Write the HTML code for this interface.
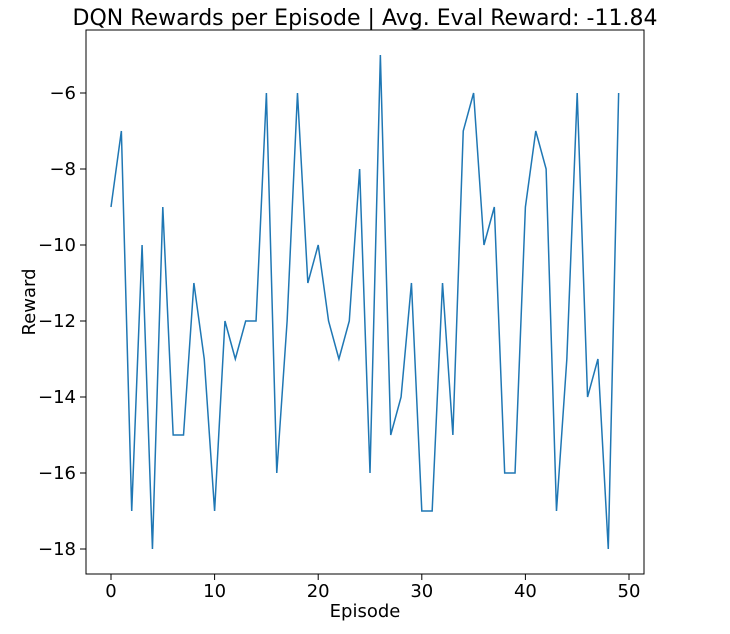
<!DOCTYPE html>
<html><head><meta charset="utf-8"><style>
body{margin:0;background:#fff;}
svg text{font-family:"DejaVu Sans","Liberation Sans",sans-serif;fill:#000;}
</style></head><body>
<svg id="chart" width="730" height="629">
<text x="365" y="25" font-size="22" text-anchor="middle">DQN Rewards per Episode | Avg. Eval Reward: -11.84</text>
<g id="ticks"></g>
<polyline id="line" fill="none" stroke="#1f77b4" stroke-width="1.5"/>
<rect x="86" y="30" width="558" height="544" fill="none" stroke="#000" stroke-width="1"/>
<text x="365" y="617" font-size="18" text-anchor="middle">Episode</text>
<text transform="translate(35,302) rotate(-90)" font-size="18" text-anchor="middle">Reward</text>
</svg>
<script>
const episodes=[...Array(50).keys()];
const rewards=[-9,-7,-17,-10,-18,-9,-15,-15,-11,-13,-17,-12,-13,-12,-12,-6,-16,-12,-6,-11,-10,-12,-13,-12,-8,-16,-5,-15,-14,-11,-17,-17,-11,-15,-7,-6,-10,-9,-16,-16,-9,-7,-8,-17,-13,-6,-14,-13,-18,-6];
const xTicks=[0,10,20,30,40,50];
const yTicks=[-18,-16,-14,-12,-10,-8,-6];
const xs=v=>111+v*10.36;
const ys=v=>93+(-6-v)*38;
const NS="http://www.w3.org/2000/svg";
document.getElementById('line').setAttribute('points',episodes.map((e,i)=>xs(e)+','+ys(rewards[i])).join(' '));
const g=document.getElementById('ticks');
xTicks.forEach(t=>{
 const l=document.createElementNS(NS,'line');
 l.setAttribute('x1',xs(t));l.setAttribute('x2',xs(t));l.setAttribute('y1',574);l.setAttribute('y2',580);l.setAttribute('stroke','#000');
 
 
 g.appendChild(l);
 const tx=document.createElementNS(NS,'text');
 tx.setAttribute('x',xs(t));tx.setAttribute('y',597);tx.setAttribute('font-size','18');tx.setAttribute('text-anchor','middle');
 tx.textContent=t;
 
 
 g.appendChild(tx);
});
yTicks.forEach(t=>{
 const l=document.createElementNS(NS,'line');
 l.setAttribute('x1',80);l.setAttribute('x2',86);l.setAttribute('y1',ys(t));l.setAttribute('y2',ys(t));l.setAttribute('stroke','#000');
 
 
 g.appendChild(l);
 const tx=document.createElementNS(NS,'text');
 tx.setAttribute('x',76);tx.setAttribute('y',ys(t)+6);tx.setAttribute('font-size','18');tx.setAttribute('text-anchor','end');
 tx.textContent='\u2212'+Math.abs(t);
 
 
 g.appendChild(tx);
});
</script>
</body></html>
